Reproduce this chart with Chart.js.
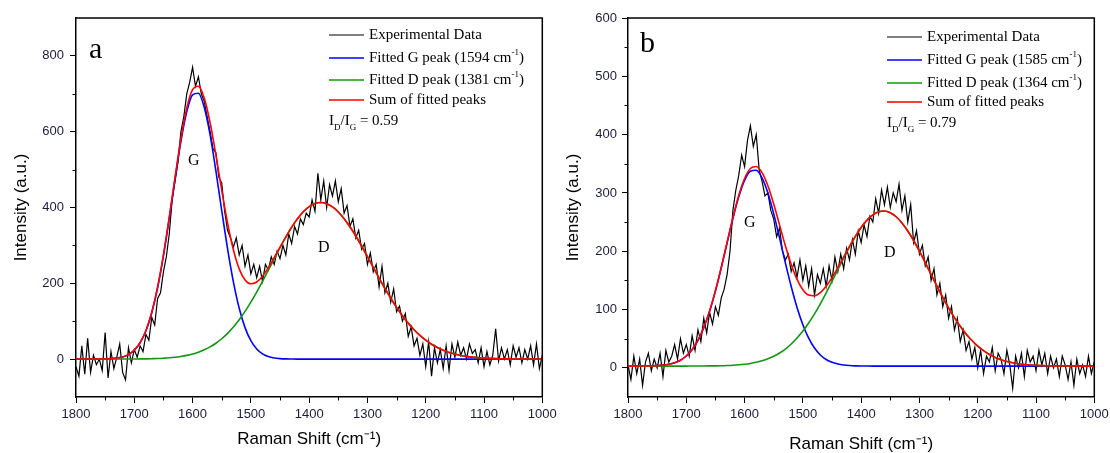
<!DOCTYPE html>
<html>
<head>
<meta charset="utf-8">
<script src="https://cdn.jsdelivr.net/npm/chart.js@4.4.1/dist/chart.umd.min.js"></script>
<style>
  html, body { margin: 0; padding: 0; background: #fff; overflow: hidden; width: 1110px; height: 453px; }
  canvas { position: absolute; top: 0; }
  #chartA { left: 0; }
  #chartB { left: 555px; }
</style>
</head>
<body>
<canvas id="chartA" width="580" height="453"></canvas>
<canvas id="chartB" width="580" height="453"></canvas>
<script>
// sampling positions (Raman shift, cm-1), high to low like the plot
function shiftGrid(from, to, step) {
  const out = [];
  for (let v = from; v >= to; v -= step) out.push(v);
  return out;
}
const expShift = shiftGrid(1800, 1000, 5);
const fitShift = shiftGrid(1800, 1000, 10);

// tick values
const xTicks = [1800, 1700, 1600, 1500, 1400, 1300, 1200, 1100, 1000];
const xMinor = [1750, 1650, 1550, 1450, 1350, 1250, 1150, 1050];
const yTicksA = [0, 200, 400, 600, 800];
const yMinorA = [100, 300, 500, 700];
const yTicksB = [0, 100, 200, 300, 400, 500, 600];
const yMinorB = [50, 150, 250, 350, 450, 550];

// ---- panel a ----
const expA = [
  -20, -45, 35, -40, 55, -35, 10, -15, 0, -30,
  70, -50, 20, -25, 5, 40, -35, -55, 30, -10,
  25, 5, 35, 20, 65, 50, 110, 90, 160, 175,
  230, 270, 330, 420, 470, 520, 600, 640, 700, 730,
  770, 720, 745, 700, 680, 640, 600, 555, 545, 480,
  465, 390, 340, 320, 295, 320, 275, 300, 245, 275,
  225, 250, 215, 245, 205, 250, 235, 270, 250, 285,
  265, 300, 275, 330, 305, 350, 330, 370, 355, 385,
  375, 420, 390, 490, 420, 470, 400, 460, 430, 470,
  415, 450, 385, 405, 350, 370, 320, 340, 290, 305,
  250, 280, 230, 250, 190, 245, 175, 200, 150, 185,
  125, 140, 100, 120, 60, 85, 35, 55, 10, 40,
  -20, 45, -45, 30, -10, 25, -25, 35, -30, 40,
  5, 45, 10, 30, 0, 40, 15, 25, -10, 30,
  -20, 20, -15, 10, 80, -5, 30, 0, 25, -15,
  35, 5, 30, -10, 25, 0, 35, -15, 40, -25,
  10
];
const gFitA = [
  0, 0, 0, 0, 0.2, 0.4, 1.1, 2.6, 5.7, 11.9,
  23.4, 43.2, 74.9, 122.5, 188.3, 272.6, 371.3, 476, 574.4, 652.4,
  697.4, 701.6, 664.3, 592.1, 496.7, 392.1, 291.4, 203.8, 134.2, 83.1,
  48.5, 26.6, 13.7, 6.7, 3.1, 1.3, 0.5, 0.2, 0, 0,
  0, 0, 0, 0, 0, 0, 0, 0, 0, 0,
  0, 0, 0, 0, 0, 0, 0, 0, 0, 0,
  0, 0, 0, 0, 0, 0, 0, 0, 0, 0,
  0, 0, 0, 0, 0, 0, 0, 0, 0, 0,
  0
];
const dFitA = [
  0, 0, 0, 0, 0, 0, 0.1, 0.1, 0.1, 0.2,
  0.3, 0.5, 0.7, 1.1, 1.6, 2.4, 3.4, 4.9, 7, 9.8,
  13.4, 18.2, 24.4, 32.2, 41.9, 53.7, 67.9, 84.6, 103.9, 125.8,
  150.2, 176.8, 205.1, 234.5, 264.5, 293.9, 322.1, 347.9, 370.5, 388.9,
  402.5, 410.6, 413, 409.8, 401.4, 388.2, 370.5, 349.2, 324.9, 298.4,
  270.5, 242.1, 213.9, 186.5, 160.6, 136.5, 114.5, 94.9, 77.6, 62.6,
  49.9, 39.2, 30.5, 23.4, 17.7, 13.2, 9.7, 7.1, 5.1, 3.6,
  2.5, 1.8, 1.2, 0.8, 0.5, 0.3, 0.2, 0.1, 0.1, 0,
  0
];
const sumFitA = [
  0, 0, 0, 0, 0.2, 0.4, 1.2, 2.7, 5.8, 12.1,
  23.7, 43.7, 75.6, 123.6, 189.9, 275, 374.7, 480.9, 581.4, 662.2,
  710.8, 719.8, 688.7, 624.3, 538.6, 445.8, 359.3, 288.4, 238.1, 208.9,
  198.7, 203.4, 218.8, 241.2, 267.6, 295.2, 322.6, 348.1, 370.5, 388.9,
  402.5, 410.6, 413, 409.8, 401.4, 388.2, 370.5, 349.2, 324.9, 298.4,
  270.5, 242.1, 213.9, 186.5, 160.6, 136.5, 114.5, 94.9, 77.6, 62.6,
  49.9, 39.2, 30.5, 23.4, 17.7, 13.2, 9.7, 7.1, 5.1, 3.6,
  2.5, 1.8, 1.2, 0.8, 0.5, 0.3, 0.2, 0.1, 0.1, 0,
  0
];

// ---- panel b ----
const expB = [
  5, -20, 20, -10, 15, -30, 10, 25, -5, 15,
  0, 25, -15, 30, 10, 20, 40, 15, 50, 25,
  40, 20, 55, 30, 65, 45, 85, 60, 95, 75,
  105, 90, 120, 135, 160, 200, 270, 305, 330, 365,
  345, 390, 415, 380, 400, 340, 320, 295, 300, 270,
  255, 225, 240, 200, 185, 195, 165, 180, 155, 185,
  150, 175, 140, 170, 125, 160, 145, 170, 140, 175,
  150, 190, 165, 195, 170, 205, 185, 220, 195, 235,
  215, 245, 225, 260, 250, 290, 265, 305, 280, 310,
  275, 300, 285, 315, 270, 295, 250, 280, 215, 235,
  195, 210, 175, 190, 150, 170, 125, 145, 105, 125,
  85, 105, 65, 85, 45, 65, 30, 45, 15, 35,
  0, 30, -10, 20, 10, 35, -5, 25, 15, -10,
  30, 5, -35, 20, 0, 25, -15, 30, 10, 20,
  -5, 30, 5, 25, -10, 20, 0, 15, -15, 20,
  5, -20, 10, -30, 15, -10, 5, -15, 20, -10,
  10
];
const gFitB = [
  3, 3, 3.1, 3.2, 3.4, 3.8, 4.6, 6.1, 8.7, 13.1,
  20.3, 31.2, 47.1, 68.9, 97.2, 131.8, 171.6, 214.2, 256.2, 293.3,
  321.5, 337.3, 338.8, 325.7, 299.8, 264.1, 222.8, 180.1, 139.5, 103.6,
  74, 50.9, 33.9, 22.1, 14.3, 9.4, 6.5, 4.8, 3.9, 3.4,
  3.2, 3.1, 3, 3, 3, 3, 3, 3, 3, 3,
  3, 3, 3, 3, 3, 3, 3, 3, 3, 3,
  3, 3, 3, 3, 3, 3, 3, 3, 3, 3,
  3, 3, 3, 3, 3, 3, 3, 3, 3, 3,
  3
];
const dFitB = [
  3, 3, 3, 3, 3, 3, 3, 3, 3, 3,
  3, 3.1, 3.1, 3.2, 3.3, 3.4, 3.6, 4, 4.5, 5.2,
  6.2, 7.6, 9.5, 12.1, 15.4, 19.8, 25.4, 32.3, 40.9, 51.1,
  63.1, 76.9, 92.6, 109.9, 128.6, 148.3, 168.4, 188.3, 207.5, 225.2,
  240.6, 253.2, 262.3, 267.7, 268.9, 266, 259.1, 248.5, 234.8, 218.4,
  200, 180.4, 160.3, 140.3, 121, 102.8, 86.2, 71.2, 58, 46.8,
  37.2, 29.4, 23, 17.9, 14, 10.9, 8.7, 7, 5.7, 4.9,
  4.2, 3.8, 3.5, 3.3, 3.2, 3.1, 3.1, 3, 3, 3,
  3
];
const sumFitB = [
  3, 3, 3.1, 3.2, 3.4, 3.8, 4.6, 6.1, 8.7, 13.1,
  20.3, 31.3, 47.2, 69.1, 97.5, 132.2, 172.2, 215.2, 257.7, 295.5,
  324.7, 341.9, 345.3, 334.8, 312.2, 280.9, 245.2, 209.4, 177.4, 151.7,
  134.1, 124.8, 123.5, 129, 139.9, 154.7, 171.9, 190.1, 208.4, 225.6,
  240.8, 253.3, 262.3, 267.7, 268.9, 266, 259.1, 248.5, 234.8, 218.4,
  200, 180.4, 160.3, 140.3, 121, 102.8, 86.2, 71.2, 58, 46.8,
  37.2, 29.4, 23, 17.9, 14, 10.9, 8.7, 7, 5.7, 4.9,
  4.2, 3.8, 3.5, 3.3, 3.2, 3.1, 3.1, 3, 3, 3,
  3
];

const toPoints = (xs, ys) => xs.map((x, i) => ({ x: x, y: ys[i] }));

const SERIF = '"Liberation Serif", "Times New Roman", serif';
const SANS = '"Liberation Sans", Arial, sans-serif';

// text with ^{sup} and _{sub} parts
function drawRich(ctx, text, x, y, size) {
  const parts = text.split(/(\^\{[^}]*\}|_\{[^}]*\})/).filter(Boolean);
  let cx = x;
  parts.forEach((p) => {
    let s = p, fs = size, dy = 0;
    if (p.startsWith("^{")) { s = p.slice(2, -1); fs = size * 0.6; dy = -size * 0.38; }
    else if (p.startsWith("_{")) { s = p.slice(2, -1); fs = size * 0.6; dy = size * 0.3; }
    ctx.font = fs + "px " + SERIF;
    ctx.fillText(s, cx, y + dy);
    cx += ctx.measureText(s).width;
  });
}

// box, minor ticks, legend and labels inside the plot
const panelDecor = {
  id: "panelDecor",
  afterDraw(chart, args, o) {
    const { ctx, chartArea: a, scales: { x, y } } = chart;
    ctx.save();
    ctx.strokeStyle = "#000";
    ctx.lineWidth = 1.5;
    ctx.beginPath();
    ctx.moveTo(a.left, a.top);
    ctx.lineTo(a.right, a.top);
    ctx.lineTo(a.right, a.bottom);
    ctx.stroke();

    ctx.lineWidth = 1;
    ctx.beginPath();
    o.xMinor.forEach((v) => {
      const px = Math.round(x.getPixelForValue(v)) + 0.5;
      ctx.moveTo(px, a.bottom);
      ctx.lineTo(px, a.bottom + 3.5);
    });
    o.yMinor.forEach((v) => {
      const py = Math.round(y.getPixelForValue(v)) + 0.5;
      ctx.moveTo(a.left, py);
      ctx.lineTo(a.left - 3.5, py);
    });
    ctx.stroke();

    // legend
    ctx.fillStyle = "#000";
    ctx.textBaseline = "middle";
    chart.data.datasets.forEach((ds, i) => {
      const ly = o.legendRows[i];
      ctx.strokeStyle = ds.borderColor;
      ctx.lineWidth = ds.borderWidth;
      ctx.beginPath();
      ctx.moveTo(o.legendX, ly);
      ctx.lineTo(o.legendX + 35, ly);
      ctx.stroke();
      drawRich(ctx, ds.label, o.legendX + 40, ly, 15);
    });

    ctx.textBaseline = "alphabetic";
    drawRich(ctx, o.ratioText, o.ratioPos[0], o.ratioPos[1], 15);
    ctx.font = "30px " + SERIF;
    ctx.fillText(o.panel, o.panelPos[0], o.panelPos[1]);
    ctx.font = "16px " + SERIF;
    ctx.fillText("G", o.gPos[0], o.gPos[1]);
    ctx.fillText("D", o.dPos[0], o.dPos[1]);
    ctx.restore();
  },
};

function makePanel(id, p) {
  const fitLine = (label, ys, color, order) => ({
    label: label,
    data: toPoints(fitShift, ys),
    borderColor: color,
    borderWidth: 1.6,
    pointRadius: 0,
    cubicInterpolationMode: "monotone",
    order: order,
  });
  new Chart(document.getElementById(id), {
    type: "line",
    data: {
      datasets: [
        {
          label: "Experimental Data",
          data: toPoints(expShift, p.exp),
          borderColor: "#000",
          borderWidth: 1.2,
          pointRadius: 0,
          order: 3,
        },
        fitLine("Fitted G peak (" + p.gPeak + " cm^{-1})", p.gFit, "#0000ff", 2),
        fitLine("Fitted D peak (" + p.dPeak + " cm^{-1})", p.dFit, "#129612", 1),
        fitLine("Sum of fitted peaks", p.sumFit, "#ff0000", 0),
      ],
    },
    options: {
      responsive: false,
      animation: false,
      devicePixelRatio: 1,
      layout: { padding: { left: 0, top: 18, right: p.padRight, bottom: 0 } },
      scales: {
        x: {
          type: "linear",
          reverse: true,
          min: 1000,
          max: 1800,
          afterBuildTicks: (s) => { s.ticks = xTicks.map((v) => ({ value: v })); },
          afterFit: (s) => { s.height = 56; },
          ticks: {
            font: { family: SANS, size: 13 }, color: "#1c1c3c", padding: 4,
            maxRotation: 0, autoSkip: false, callback: (v) => String(v),
          },
          grid: { drawOnChartArea: false, tickLength: 6, color: "#000", tickWidth: 1 },
          border: { color: "#000", width: 1.5 },
          title: {
            display: true,
            text: "Raman Shift (cm⁻¹)",
            font: { family: SANS, size: 17 },
            color: "#000",
            padding: { top: 0, bottom: p.xTitlePad },
          },
        },
        y: {
          min: p.yMin,
          max: p.yMax,
          afterBuildTicks: (s) => { s.ticks = p.yTicks.map((v) => ({ value: v })); },
          afterFit: (s) => { s.width = p.yWidth; },
          ticks: { font: { family: SANS, size: 13 }, color: "#1c1c3c", padding: p.yTickPad, callback: (v) => String(v) },
          grid: { drawOnChartArea: false, tickLength: 6, color: "#000", tickWidth: 1 },
          border: { color: "#000", width: 1.5 },
          title: {
            display: true,
            text: "Intensity (a.u.)",
            font: { family: SANS, size: 17 },
            color: "#000",
            padding: { top: p.yTitlePad, bottom: 0 },
          },
        },
      },
      plugins: {
        legend: { display: false },
        tooltip: { enabled: false },
        panelDecor: p.decor,
      },
    },
    plugins: [panelDecor],
  });
}

makePanel("chartA", {
  exp: expA, gFit: gFitA, dFit: dFitA, sumFit: sumFitA,
  gPeak: 1594, dPeak: 1381,
  yMin: -100, yMax: 900, yTicks: yTicksA,
  yWidth: 76, padRight: 37.7, yTickPad: 6, yTitlePad: 11, xTitlePad: 3,
  decor: {
    xMinor: xMinor, yMinor: yMinorA,
    legendX: 329, legendRows: [35, 58, 80, 100],
    ratioText: "I_{D}/I_{G} = 0.59", ratioPos: [329, 125],
    panel: "a", panelPos: [89, 58],
    gPos: [188, 165], dPos: [318, 252],
  },
});

makePanel("chartB", {
  exp: expB, gFit: gFitB, dFit: dFitB, sumFit: sumFitB,
  gPeak: 1585, dPeak: 1364,
  yMin: -50, yMax: 600, yTicks: yTicksB,
  yWidth: 73, padRight: 40.7, yTickPad: 5, yTitlePad: 8.5, xTitlePad: -2,
  decor: {
    xMinor: xMinor, yMinor: yMinorB,
    legendX: 332, legendRows: [37, 60, 83, 102],
    ratioText: "I_{D}/I_{G} = 0.79", ratioPos: [332, 127],
    panel: "b", panelPos: [85, 52],
    gPos: [189, 227], dPos: [329, 257],
  },
});
</script>
</body>
</html>
